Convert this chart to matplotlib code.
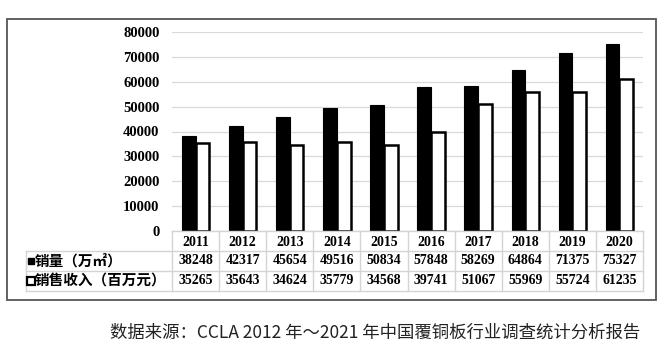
import matplotlib
matplotlib.use('Agg')
import matplotlib.pyplot as plt
import matplotlib.patches as mpatches
import numpy as np

plt.rcParams['font.family'] = ['Liberation Serif', 'Noto Sans CJK SC', 'DejaVu Sans']

# ── Data ──────────────────────────────────────────────────────────────────────
years = ['2011', '2012', '2013', '2014', '2015', '2016', '2017', '2018', '2019', '2020']
sales_volume = [38248, 42317, 45654, 49516, 50834, 57848, 58269, 64864, 71375, 75327]
sales_revenue = [35265, 35643, 34624, 35779, 34568, 39741, 51067, 55969, 55724, 61235]
row_labels = ['销量（万㎡）', '销售收入（百万元）']
y_ticks = [0, 10000, 20000, 30000, 40000, 50000, 60000, 70000, 80000]
source_text = '数据来源：CCLA 2012 年～2021 年中国覆铜板行业调查统计分析报告'

W, H = 671, 350
fig = plt.figure(figsize=(W / 100, H / 100), dpi=100)


def box(l, t, r, b):
    # pixel box (from top-left) -> figure fraction rect
    return [l / W, 1 - b / H, (r - l) / W, (b - t) / H]


# ── Outer frame ──────────────────────────────────────────────────────────────
fig.patches.append(mpatches.Rectangle((7 / W, 1 - 300 / H), 649 / W, 281 / H,
                                      transform=fig.transFigure, fill=False,
                                      edgecolor='#555555', linewidth=1.3))

# ── Bars ─────────────────────────────────────────────────────────────────────
ax = fig.add_axes(box(172, 32, 643, 231))
x = np.arange(len(years))
bw = 0.29
ax.bar(x - bw / 2, sales_volume, width=bw, color='black', edgecolor='black',
       linewidth=0.8, zorder=3)
ax.bar(x + bw / 2, sales_revenue, width=bw, color='white', edgecolor='black',
       linewidth=1.8, zorder=3)
ax.set_xlim(-0.5, len(years) - 0.5)
ax.set_ylim(0, 80000)
ax.set_yticks(y_ticks)
ax.set_yticklabels([str(v) for v in y_ticks], fontsize=10.5, fontweight='bold')
ax.tick_params(axis='y', length=0, pad=9)
ax.set_xticks([])
ax.grid(axis='y', color='#d9d9d9', linewidth=0.9, zorder=0)
for s in ax.spines.values():
    s.set_visible(False)

# ── Data table ───────────────────────────────────────────────────────────────
tax = fig.add_axes(box(26, 231, 643, 291))
left = -0.5 - (172 - 26) / 47.1
tax.set_xlim(left, len(years) - 0.5)
tax.set_ylim(3, 0)
tax.axis('off')
gc = '#d4d4d4'
tax.plot([-0.5, len(years) - 0.5], [0, 0], color=gc, lw=1, clip_on=False)
for yy in (1, 2, 3):
    tax.plot([left, len(years) - 0.5], [yy, yy], color=gc, lw=1, clip_on=False)
for i in range(len(years) + 1):
    tax.plot([i - 0.5, i - 0.5], [0, 3], color=gc, lw=1, clip_on=False)
tax.plot([left, left], [1, 3], color=gc, lw=1, clip_on=False)

for i, yr in enumerate(years):
    tax.text(i, 0.55, yr, ha='center', va='center', fontsize=10, fontweight='bold')
    tax.text(i, 1.5, str(sales_volume[i]), ha='center', va='center', fontsize=10,
             fontweight='bold')
    tax.text(i, 2.5, str(sales_revenue[i]), ha='center', va='center', fontsize=10,
             fontweight='bold')

# legend keys in the row headers
tax.plot([left + 0.1], [1.5], marker='s', ms=4.5, color='black', clip_on=False)
tax.plot([left + 0.1], [2.5], marker='s', ms=5.5, mfc='white', mec='black',
         mew=1.6, clip_on=False)
for r, lab in enumerate(row_labels):
    tax.text(left + 0.18, 1.5 + r, lab, ha='left', va='center', fontsize=10.5,
             fontweight='bold', family=['Noto Sans CJK SC', 'DejaVu Sans'])

# ── Source note ──────────────────────────────────────────────────────────────
fig.text(110 / W, 1 - 333 / H, source_text, ha='left', va='center', fontsize=12.5,
         family=['Noto Sans CJK SC', 'DejaVu Sans'], color='#222222')

plt.savefig('out.png', dpi=100, facecolor='white')
plt.close()
